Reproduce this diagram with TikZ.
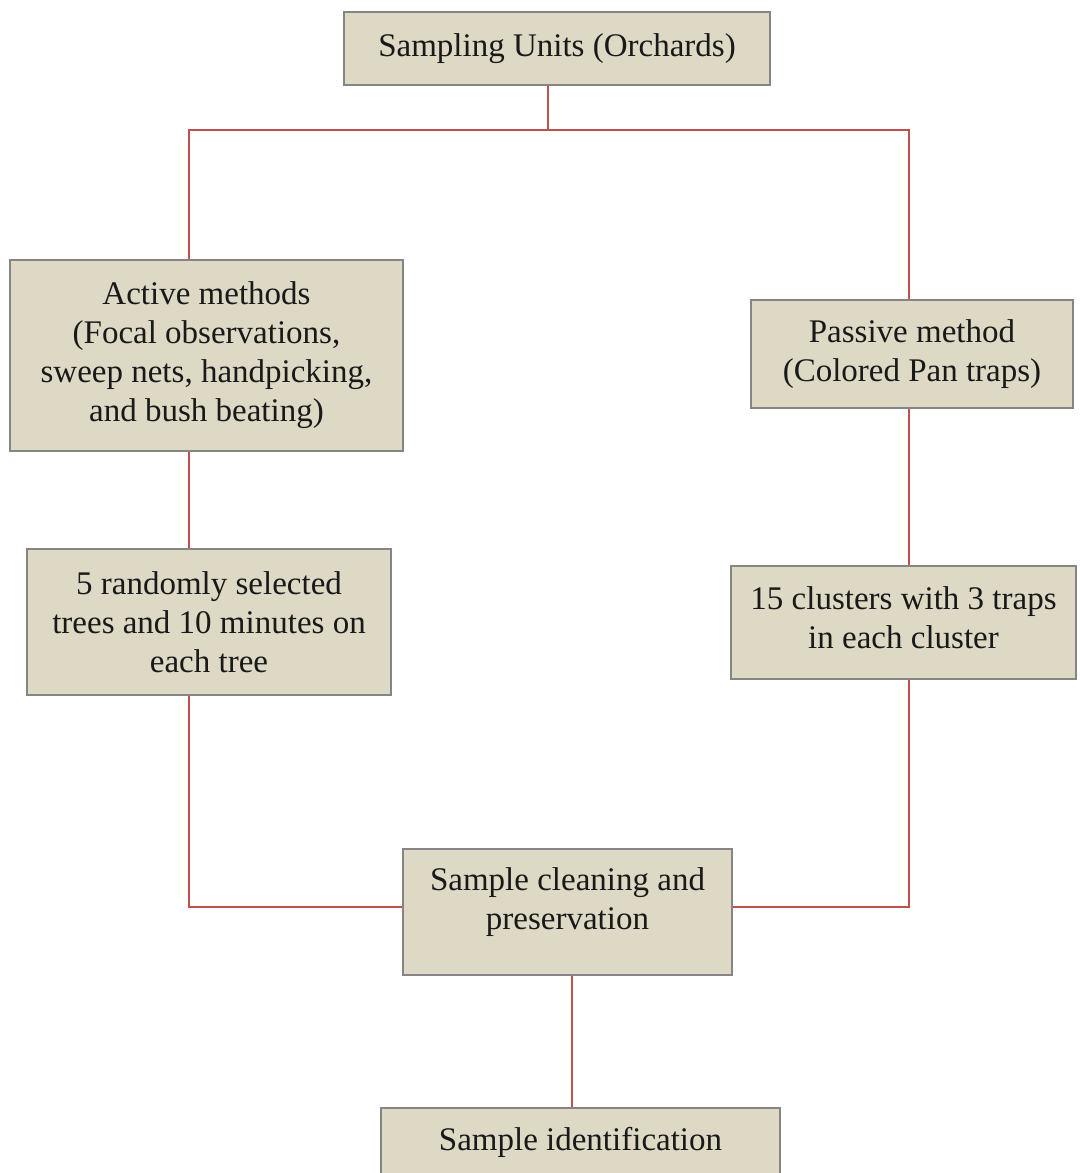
\documentclass[tikz,border=0pt]{standalone}
\usepackage{fontspec}
\setmainfont{Liberation Serif}
\usetikzlibrary{calc}
\definecolor{boxfill}{HTML}{DDD9C4}
\definecolor{boxline}{HTML}{858585}
\definecolor{linkred}{HTML}{C0504D}
\tikzset{
  fbox/.style={draw=boxline, line width=1pt, fill=boxfill, rectangle, align=center,
    inner sep=0pt, font=\fontsize{16.5}{19.5}\selectfont, text=black!90},
  link/.style={draw=linkred, line width=1pt}
}
\begin{document}
\begin{tikzpicture}[x=0.5pt,y=-0.5pt]
\useasboundingbox (0,0) rectangle (1080,1173);
\clip (0,0) rectangle (1080,1173);
\node[fbox, minimum width=213pt, minimum height=36.5pt] (top) at (557,48.5) {Sampling Units (Orchards)};
\node[fbox, minimum width=196.5pt, minimum height=95.5pt] (act) at (206.5,355.5) {Active methods\\(Focal observations,\\sweep nets, handpicking,\\and bush beating)};
\node[fbox, minimum width=182pt, minimum height=73pt] (rnd) at (209,622) {5 randomly selected\\trees and 10 minutes on\\each tree};
\node[fbox, minimum width=161pt, minimum height=54pt] (pas) at (912,354) {Passive method\\(Colored Pan traps)};
\node[fbox, minimum width=172.5pt, minimum height=56.5pt] (clu) at (903.5,622.5) {15 clusters with 3 traps\\in each cluster\\[-15pt]\mbox{}};
\node[fbox, minimum width=164.5pt, minimum height=63pt] (cln) at (567.5,912) {Sample cleaning and\\preservation\\[-6pt]\mbox{}};
\node[fbox, minimum width=199.5pt, minimum height=34pt] (idn) at (580.5,1142) {Sample identification};
\coordinate (jt) at (548,130);
\coordinate (jl) at (189,130);
\coordinate (jr) at (909,130);
\coordinate (bl) at (189,907);
\coordinate (br) at (909,907);
\coordinate (jb) at (572,1040);
\draw[link] (top.south -| jt) -- (jt);
\draw[link] (act.north -| jl) -- (jl) -- (jr) -- (pas.north -| jr);
\draw[link] (act.south -| jl) -- (rnd.north -| jl);
\draw[link] (pas.south -| jr) -- (clu.north -| jr);
\draw[link] (rnd.south -| bl) -- (bl) -- (cln.west |- bl);
\draw[link] (clu.south -| br) -- (br) -- (cln.east |- br);
\draw[link] (cln.south -| jb) -- (idn.north -| jb);
\end{tikzpicture}
\end{document}
